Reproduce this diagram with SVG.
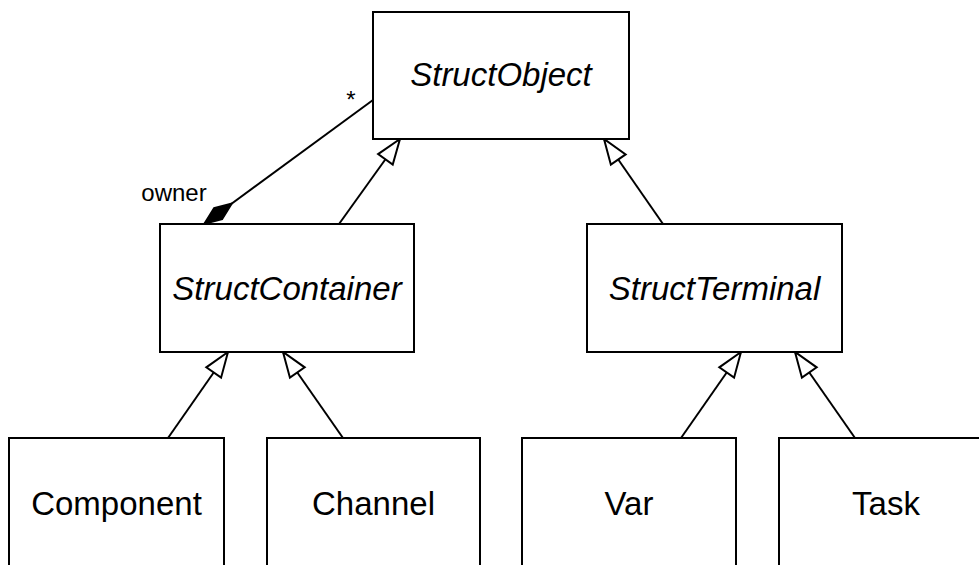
<svg xmlns="http://www.w3.org/2000/svg" width="979" height="565" viewBox="0 0 979 565">
<style>
.box{fill:#fff;stroke:#000;stroke-width:2}
.lbl{font-family:"Liberation Sans",Arial,sans-serif;font-size:33px;fill:#000;text-anchor:middle}
.it{font-style:italic}
.sm{font-family:"Liberation Sans",Arial,sans-serif;font-size:24px;fill:#000}
.edge{fill:none;stroke:#000;stroke-width:2}
.gen{marker-end:url(#tri)}
</style>
<defs>
<marker id="tri" viewBox="-28 -12 31 24" refX="0" refY="0" markerWidth="31" markerHeight="24" markerUnits="userSpaceOnUse" orient="auto">
<path d="M0,0 L-25,-9 L-25,9 Z" fill="#fff" stroke="#000" stroke-width="2" stroke-linejoin="miter"/>
</marker>
<marker id="dia" viewBox="-2 -10 39 20" refX="0" refY="0" markerWidth="39" markerHeight="20" markerUnits="userSpaceOnUse" orient="auto">
<path d="M0,0 L17.5,-7 L35,0 L17.5,7 Z" fill="#000" stroke="#000" stroke-width="1.5"/>
</marker>
</defs>
<rect width="979" height="565" fill="#fff"/>
<g id="connectors">
<path class="edge" d="M204,224 L373,100" marker-start="url(#dia)"/>
<path class="edge gen" d="M339,224 L400,139"/>
<path class="edge gen" d="M663,224 L604,139"/>
<path class="edge gen" d="M168,438 L228,352"/>
<path class="edge gen" d="M343,438 L283,352"/>
<path class="edge gen" d="M681,438 L741,352"/>
<path class="edge gen" d="M855,438 L795,352"/>
<text class="sm" x="351" y="108" text-anchor="middle">*</text>
<text class="sm" x="174" y="201" text-anchor="middle">owner</text>
</g>
<g id="StructObject">
<rect class="box" x="373" y="12" width="256" height="127"/>
<text class="lbl it" x="501" y="86">StructObject</text>
</g>
<g id="StructContainer">
<rect class="box" x="160" y="224" width="254" height="128"/>
<text class="lbl it" x="287" y="300">StructContainer</text>
</g>
<g id="StructTerminal">
<rect class="box" x="587" y="224" width="255" height="128"/>
<text class="lbl it" x="714.5" y="300">StructTerminal</text>
</g>
<g id="Component">
<rect class="box" x="9" y="438" width="215" height="160"/>
<text class="lbl" x="116.5" y="515">Component</text>
</g>
<g id="Channel">
<rect class="box" x="267" y="438" width="213" height="160"/>
<text class="lbl" x="373.5" y="515">Channel</text>
</g>
<g id="Var">
<rect class="box" x="522" y="438" width="214" height="160"/>
<text class="lbl" x="629" y="515">Var</text>
</g>
<g id="Task">
<rect class="box" x="779" y="438" width="214" height="160"/>
<text class="lbl" x="886" y="515">Task</text>
</g>
</svg>
